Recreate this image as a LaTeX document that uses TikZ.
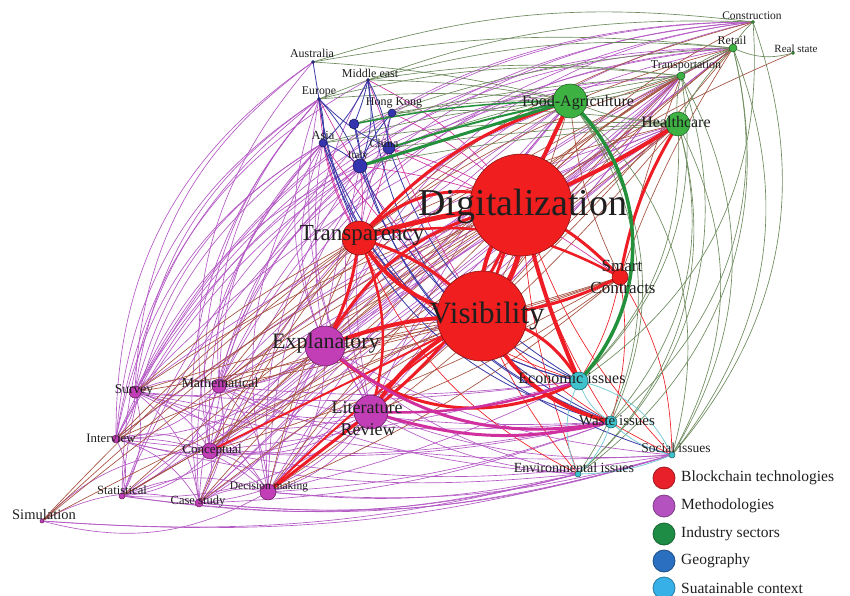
\documentclass[tikz,border=0pt]{standalone}
\usepackage{fontspec}
\setmainfont{Liberation Serif}
\pgfdeclarelayer{paper}
\pgfdeclarelayer{edges}
\pgfsetlayers{paper,edges,main}

% node fills
\definecolor{nRD}{HTML}{F01E1E}
\definecolor{nME}{HTML}{C23EB6}
\definecolor{nIN}{HTML}{3DB243}
\definecolor{nGE}{HTML}{3434AE}
\definecolor{nSU}{HTML}{3FC2CC}
% edge colours
\definecolor{cRD}{HTML}{EE1C24}
\definecolor{cPK}{HTML}{D0309E}
\definecolor{cPM}{HTML}{B458C4}
\definecolor{cBR}{HTML}{A4503E}
\definecolor{cGG}{HTML}{6C8A5C}
\definecolor{cGR}{HTML}{23913C}
\definecolor{cBB}{HTML}{3A3AA6}
\definecolor{cCY}{HTML}{7ACCD6}
% legend colours
\definecolor{lRD}{HTML}{E8202A}
\definecolor{lME}{HTML}{B453C0}
\definecolor{lIN}{HTML}{1E8C45}
\definecolor{lGE}{HTML}{2A6FC0}
\definecolor{lSU}{HTML}{36B0E6}

\tikzset{
  nodebase/.style={circle, inner sep=0pt, line width=0.5pt},
  bt/.style={nodebase, fill=nRD, draw=nRD!50!black, minimum size=#1},
  me/.style={nodebase, fill=nME, draw=nME!50!black, minimum size=#1},
  ind/.style={nodebase, fill=nIN, draw=nIN!50!black, minimum size=#1},
  ge/.style={nodebase, fill=nGE, draw=nGE!50!black, minimum size=#1},
  su/.style={nodebase, fill=nSU, draw=nSU!50!black, minimum size=#1},
  lab/.style={inner sep=0pt, text=black!88, font=\fontsize{#1}{#1}\selectfont},
  legdot/.style={circle, inner sep=0pt, minimum size=22pt, line width=0.8pt, fill=#1, draw=#1!70!black},
  legtext/.style={anchor=west, inner sep=0pt, text=black!88, font=\fontsize{15.5}{15.5}\selectfont},
  thin/.style={line width=0.65pt},
  pm/.style={thin, draw=cPM},
  br/.style={thin, draw=cBR},
  gg/.style={thin, draw=cGG},
  bb/.style={line width=0.8pt, draw=cBB},
  cy/.style={line width=0.8pt, draw=cCY},
  rdt/.style={thin, draw=cRD},
  pkt/.style={thin, draw=cPK},
}

\begin{document}
\begin{tikzpicture}[x=1pt,y=-1pt]
\path[use as bounding box] (0,0) rectangle (850,596);
\begin{pgfonlayer}{paper}
\fill[white] (0,0) rectangle (850,596);
\end{pgfonlayer}

% ---- blockchain technologies
\node[bt=102] (dig) at (521,205) {};
\node[bt=90]  (vis) at (482,316) {};
\node[bt=34]  (tra) at (359,238) {};
\node[bt=16]  (sma) at (620,277) {};
% ---- methodologies
\node[me=40] (exp) at (325,346) {};
\node[me=34] (lit) at (371,412) {};
\node[me=12] (sur) at (135,392) {};
\node[me=14] (mat) at (219,386) {};
\node[me=8]  (int) at (116,439) {};
\node[me=16] (con) at (210,451) {};
\node[me=6]  (sta) at (122,496) {};
\node[me=8]  (cas) at (199,503) {};
\node[me=16] (dec) at (268,492) {};
\node[me=4]  (sim) at (42,521) {};
% ---- industry sectors
\node[ind=34] (foo) at (570,101) {};
\node[ind=24] (hea) at (678,124) {};
\node[ind=8]  (trn) at (681,76) {};
\node[ind=8]  (ret) at (733,48) {};
\node[ind=3]  (cns) at (753,22) {};
\node[ind=3]  (rea) at (793,53) {};
% ---- geography
\node[ge=3]  (aus) at (313,62) {};
\node[ge=3]  (mid) at (368,80) {};
\node[ge=3]  (eur) at (319,99) {};
\node[ge=8]  (hkg) at (392,113) {};
\node[ge=10] (unk) at (354,124) {};
\node[ge=8]  (asi) at (323,143) {};
\node[ge=12] (chi) at (389,148) {};
\node[ge=14] (ita) at (360,166) {};
% ---- sustainable context
\node[su=18] (eco) at (579,381) {};
\node[su=12] (was) at (611,422) {};
\node[su=6]  (soc) at (672,455) {};
\node[su=6]  (env) at (578,474) {};

\begin{pgfonlayer}{edges}
\clip (0,0) rectangle (850,596);
% methodologies among themselves
\foreach \a/\b in {sur/mat,sur/int,sur/con,sur/sta,sur/cas,sur/dec,mat/con,mat/int,mat/cas,mat/dec,mat/sta,
  int/con,int/sta,int/cas,int/dec,con/cas,con/dec,con/sta,cas/dec,sta/dec,exp/sur,exp/mat,exp/con,exp/int,
  exp/dec,exp/cas,exp/sta,lit/sur,lit/mat,lit/con,lit/dec,lit/cas,lit/int,lit/sta,exp/lit,sim/cas,sim/con,dec/sim}
  \draw[pm] (\a.center) to[bend left=22] (\b.center);
% methodologies to geography
\foreach \a/\b/\k in {sur/aus/26,sur/eur/24,sur/asi/22,sur/ita/20,int/eur/26,int/asi/24,int/mid/26,mat/asi/22,
  mat/eur/23,mat/ita/20,mat/chi/18,con/asi/23,con/eur/25,con/hkg/20,cas/eur/25,cas/ita/22,cas/asi/23,sta/asi/25,
  sta/eur/26,dec/asi/22,dec/ita/20,dec/chi/18,exp/asi/22,exp/eur/22,exp/mid/20,lit/eur/20,lit/asi/20,lit/ita/16,
  lit/hkg/16,exp/chi/14,int/aus/28,con/aus/26}
  \draw[pm] (\a.center) to[bend left=\k] (\b.center);
% methodologies to industry sectors, wide arcs
\foreach \a/\b/\k in {sur/ret/30,sur/cns/31,int/ret/31,int/cns/33,sta/cns/33,sta/ret/31,cas/ret/30,mat/cns/31,
  con/cns/31,exp/cns/30,dec/cns/31,int/trn/29,sur/trn/28,mat/ret/29}
  \draw[pm] (\a.center) to[bend left=\k] (\b.center);
% methodologies to industry sectors, across the middle
\foreach \a/\b/\k in {lit/ret/8,lit/trn/-6,lit/hea/5,exp/ret/10,exp/trn/-4,exp/hea/6,dec/ret/6,dec/trn/-8,dec/hea/4,
  con/ret/10,con/trn/-5,con/hea/6,cas/trn/-6,cas/hea/5,mat/hea/8,mat/trn/-4,sur/hea/10,sta/trn/-6,sta/hea/4,
  int/hea/8,dec/foo/6,con/foo/-6,lit/foo/8,exp/foo/10,mat/foo/6,sur/foo/12,cas/foo/-4}
  \draw[pm] (\a.center) to[bend left=\k] (\b.center);
\foreach \a/\b/\k in {lit/ret/-5,exp/trn/4,dec/hea/-8,con/trn/6,sim/trn/8,sta/hea/-4,mat/ret/-6}
  \draw[br] (\a.center) to[bend left=\k] (\b.center);
% methodologies to sustainable context
\foreach \a/\b/\k in {sur/eco/-6,sur/was/-8,mat/eco/-6,mat/was/-8,int/was/-9,int/env/-10,con/eco/-4,con/was/-8,
  con/soc/-10,sta/soc/-12,sta/env/-11,cas/env/-10,cas/soc/-11,cas/was/-9,dec/soc/-10,dec/env/-9,dec/was/-8,
  dec/eco/-6,exp/soc/-12,exp/env/-14,lit/soc/-12,lit/env/-12,sim/env/-9,sim/soc/-10,sur/soc/-10,mat/env/-10}
  \draw[pm] (\a.center) to[bend left=\k] (\b.center);
% methodologies to blockchain technologies
\foreach \a/\b/\k in {sur/vis/5,sur/dig/8,sur/tra/6,mat/vis/4,mat/dig/8,mat/tra/6,int/vis/5,int/tra/6,int/dig/8,
  con/dig/6,con/tra/8,sta/vis/4,sta/dig/6,cas/vis/4,cas/dig/6,cas/tra/8,dec/dig/5,dec/tra/6,sim/vis/3,sim/tra/5,
  sim/dig/6,exp/sma/-6,lit/sma/-8,sur/sma/-4,mat/sma/-5,con/sma/-6,dec/sma/-8}
  \draw[br] (\a.center) to[bend left=\k] (\b.center);
% blockchain technologies to industry sectors
\foreach \a/\b/\k in {dig/ret/10,dig/trn/8,dig/cns/12,dig/rea/6,vis/ret/8,vis/trn/6,vis/hea/4,vis/foo/-6,
  tra/ret/12,tra/trn/10,tra/hea/6,tra/cns/14,sma/ret/6,sma/trn/4,sma/foo/10}
  \draw[br] (\a.center) to[bend left=\k] (\b.center);
% blockchain technologies to geography
\foreach \a/\b/\k in {tra/asi/10,tra/eur/12,tra/chi/-6,tra/ita/-8,dig/chi/-8,dig/ita/-6,dig/hkg/-10,vis/asi/8,
  vis/eur/10,vis/mid/6,dig/mid/-12,sma/chi/-6}
  \draw[pkt] (\a.center) to[bend left=\k] (\b.center);
% blockchain technologies to sustainable context
\foreach \a/\b/\k in {dig/was/-10,dig/soc/-12,dig/env/-8,vis/soc/-10,vis/env/-8,tra/eco/-15,tra/env/-20,
  sma/eco/10,sma/was/12,sma/soc/15}
  \draw[rdt] (\a.center) to[bend left=\k] (\b.center);
% industry sectors to sustainable context
\foreach \a/\b/\k in {hea/soc/28,hea/env/32,hea/was/28,trn/soc/30,trn/env/34,trn/eco/28,ret/soc/30,ret/env/34,
  ret/was/32,cns/soc/30,cns/eco/30,hea/eco/24,foo/soc/32,foo/env/36,foo/was/32}
  \draw[gg] (\a.center) to[bend left=\k] (\b.center);
% industry sectors among themselves
\foreach \a/\b/\k in {ret/rea/-20,ret/cns/10,trn/ret/10,hea/trn/10,foo/hea/-10,foo/trn/-10,foo/ret/-10,
  hea/ret/10}
  \draw[gg] (\a.center) to[bend left=\k] (\b.center);
% geography to industry sectors
\foreach \a/\b/\k in {aus/cns/12,aus/ret/8,aus/foo/5,mid/ret/10,mid/trn/8,mid/foo/5,eur/foo/5,eur/trn/10,
  hkg/foo/5,hkg/hea/5,asi/hea/5,asi/foo/5,chi/trn/5,chi/hea/3,ita/hea/3,unk/ret/8,unk/trn/5,eur/cns/12}
  \draw[gg] (\a.center) to[bend left=\k] (\b.center);
% geography among itself
\foreach \a/\b/\k in {eur/asi/10,eur/ita/10,mid/ita/15,mid/chi/10,mid/unk/5,hkg/chi/-15,unk/ita/10,asi/ita/10,
  aus/eur/0,mid/asi/10,hkg/ita/-10,eur/chi/-10}
  \draw[bb] (\a.center) to[bend left=\k] (\b.center);
% geography to sustainable context
\foreach \a/\b/\k in {asi/eco/-30,eur/eco/-35,ita/was/-25,chi/eco/-20,unk/was/-30,mid/was/-30,eur/was/-35,
  asi/soc/-25,ita/eco/-20}
  \draw[bb] (\a.center) to[bend left=\k] (\b.center);
% sustainable context among itself
\foreach \a/\b/\k in {eco/was/-20,eco/env/-25,was/soc/-15,was/env/15,eco/soc/25,env/soc/-10}
  \draw[cy] (\a.center) to[bend left=\k] (\b.center);
% heavy links
\foreach \a/\b/\k/\w in {dig/vis/25/5,vis/dig/25/4,dig/vis/0/3,tra/dig/35/3,tra/dig/5/5,tra/vis/-25/4,
  tra/vis/15/3,exp/vis/10/4,exp/dig/25/3,lit/vis/15/4,lit/dig/-15/3,foo/dig/0/4,foo/tra/-15/3,hea/dig/5/4,
  hea/sma/-10/3,sma/dig/-10/3,sma/vis/10/3,sma/tra/-20/2.5,dig/eco/-5/4,vis/eco/25/3,exp/eco/-35/3,
  vis/was/-25/4,lit/dec/0/3,con/vis/0/2,dec/vis/5/2,tra/exp/10/3,tra/lit/20/2.5}
  \draw[draw=cRD, line width=\w pt] (\a.center) to[bend left=\k] (\b.center);
\foreach \a/\b/\k/\w in {lit/was/-15/3,exp/was/-25/3,lit/eco/-10/2.5}
  \draw[draw=cPK, line width=\w pt] (\a.center) to[bend left=\k] (\b.center);
\foreach \a/\b/\k/\w in {foo/eco/45/3.5,foo/ita/0/3,foo/chi/-3/2,foo/unk/-5/1.5}
  \draw[draw=cGR, line width=\w pt] (\a.center) to[bend left=\k] (\b.center);
\end{pgfonlayer}

% ---- labels
\node[lab=38] (tdig) at (523,206) {Digitalization};
\node[lab=31] (tvis) at (487,316) {Visibility};
\node[lab=23] (ttra) at (362,235) {Transparency};
\node[lab=17] (tsma1) at (622,266) {Smart};
\node[lab=17] (tsma2) at (623,288) {Contracts};
\node[lab=22] (texp) at (326,343) {Explanatory};
\node[lab=18] (tlit1) at (367,408) {Literature};
\node[lab=18] (tlit2) at (368,430) {Review};
\node[lab=16] (tfoo) at (578,103) {Food-Agriculture};
\node[lab=16] (thea) at (676,122) {Healthcare};
\node[lab=16] (teco) at (572,378) {Economic issues};
\node[lab=15] (twas) at (617,421) {Waste issues};
\node[lab=13.5] (tsoc) at (676,448) {Social issues};
\node[lab=14] (tenv) at (574,468) {Environmental issues};
\node[lab=13.5] (tsur) at (134,390) {Survey};
\node[lab=14] (tmat) at (220,383) {Mathematical};
\node[lab=12.8] (tint) at (111,438) {Interview};
\node[lab=13] (tcon) at (212,450) {Conceptual};
\node[lab=12.6] (tsta) at (122,490) {Statistical};
\node[lab=12.5] (tcas) at (198,502) {Case study};
\node[lab=11.5] (tdec) at (269,487) {Decision making};
\node[lab=14.5] (tsim) at (44,515) {Simulation};
\node[lab=12] (taus) at (312,53) {Australia};
\node[lab=12] (tmid) at (370,73) {Middle east};
\node[lab=11.8] (teur) at (319,92) {Europe};
\node[lab=12] (thkg) at (394,103) {Hong Kong};
\node[lab=12.5] (tasi) at (323,135) {Asia};
\node[lab=12] (tchi) at (384,143) {China};
\node[lab=11] (tita) at (358,156) {Italy};
\node[lab=12] (ttrn) at (686,66) {Transportation};
\node[lab=12] (tret) at (732,40) {Retail};
\node[lab=11.5] (tcns) at (752,16) {Construction};
\node[lab=11] (trea) at (796,49) {Real state};

% ---- legend
\node[legdot=lRD] (lg1) at (664,478) {};
\node[legdot=lME] (lg2) at (664,506) {};
\node[legdot=lIN] (lg3) at (664,534) {};
\node[legdot=lGE] (lg4) at (664,561) {};
\node[legdot=lSU] (lg5) at (664,588) {};
\node[legtext] (lt1) at (681,478) {Blockchain technologies};
\node[legtext] (lt2) at (681,506) {Methodologies};
\node[legtext] (lt3) at (681,534) {Industry sectors};
\node[legtext] (lt4) at (681,561) {Geography};
\node[legtext] (lt5) at (681,588) {Suatainable context};
\end{tikzpicture}
\end{document}
